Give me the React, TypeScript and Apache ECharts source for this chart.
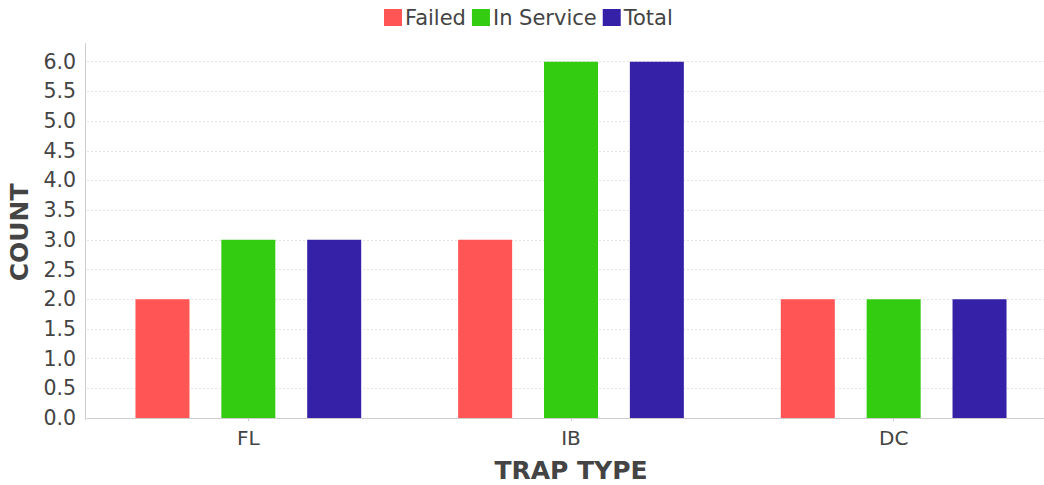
import React, { useEffect, useRef } from "react";
import * as echarts from "echarts";

const categories = ["FL", "IB", "DC"];
const failed = [2, 3, 2];
const inService = [3, 6, 2];
const total = [3, 6, 2];
const seriesNames = ["Failed", "In Service", "Total"];
const colors = ["#ff5555", "#33cc11", "#3520a8"];

const FONT = "DejaVu Sans";
const TEXT = "#444444";

export default function App() {
  const ref = useRef<HTMLDivElement>(null);
  useEffect(() => {
    if (!ref.current) return;
    document.body.style.margin = "0";
    const chart = echarts.init(ref.current, null, { renderer: "svg" });
    const data = [failed, inService, total];
    chart.setOption({
      animation: false,
      textStyle: { fontFamily: FONT },
      legend: {
        left: 379,
        top: 2,
        icon: "rect",
        itemWidth: 18,
        itemHeight: 17,
        itemGap: 6,
        textStyle: { fontFamily: FONT, fontSize: 21, color: TEXT, padding: [0, 0, 0, -2] },
        data: seriesNames,
      },
      grid: {
        left: 87,
        top: 61.7,
        width: 968,
        height: 356.3,
        containLabel: false,
        outerBoundsMode: "none",
      },
      xAxis: {
        type: "category",
        data: categories,
        offset: 4,
        axisLine: { show: true, lineStyle: { color: "#cccccc", width: 1 } },
        axisTick: { show: true, alignWithLabel: true, length: 3, lineStyle: { color: "#cccccc" } },
        axisLabel: { fontFamily: FONT, fontSize: 20, color: TEXT, margin: 6 },
        name: "TRAP TYPE",
        nameLocation: "middle",
        nameGap: 36,
        nameTextStyle: { fontFamily: FONT, fontSize: 25, fontWeight: "bold", color: TEXT },
      },
      yAxis: {
        type: "value",
        min: 0,
        max: 6,
        interval: 0.5,
        offset: 2,
        axisLine: { show: false },
        axisTick: { show: false },
        axisLabel: {
          fontFamily: FONT,
          fontSize: 20.5,
          color: TEXT,
          margin: 9,
          formatter: (v: number) => v.toFixed(1),
        },
        splitLine: { show: true, lineStyle: { color: "#e4e4e4", type: [2, 2], width: 1 } },
        name: "COUNT",
        nameLocation: "middle",
        nameGap: 48,
        nameTextStyle: {
          fontFamily: FONT,
          fontSize: 25,
          fontWeight: "bold",
          color: TEXT,
          padding: [0, 0, 0, 15],
        },
      },
      graphic: [
        {
          type: "line",
          shape: { x1: 85.5, y1: 43, x2: 85.5, y2: 420 },
          style: { stroke: "#cccccc", lineWidth: 1 },
          silent: true,
        },
      ],
      series: seriesNames.map((name, i) => ({
        name,
        type: "bar",
        data: data[i],
        barWidth: 54,
        barGap: "59%",
        itemStyle: { color: colors[i] },
      })),
    });
    return () => chart.dispose();
  }, []);
  return <div ref={ref} style={{ width: 1044, height: 485 }} />;
}
